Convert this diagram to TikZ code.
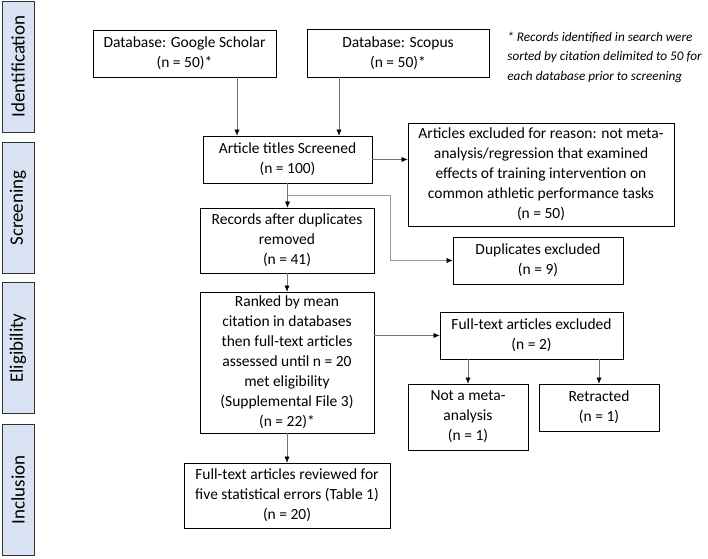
\documentclass[tikz,border=0pt]{standalone}
\usepackage{fontspec}
\setmainfont{Carlito}
\usetikzlibrary{arrows.meta,calc}
\definecolor{phaseblue}{HTML}{DAE3F3}

\begin{document}
\begin{tikzpicture}[x=1pt, y=-1pt,
            every node/.style={draw, thick, align=center, inner sep=2pt,
                font=\fontsize{15.5}{20}\selectfont},
            phase/.style={draw=black!80, fill=phaseblue, rotate=90,
                minimum width=131, minimum height=32,
                font=\fontsize{19}{22}\selectfont},
            link/.style={draw=black!55, thin,
                -{Latex[length=6pt, width=5pt, color=black]}}]
        \useasboundingbox (0,0) rectangle (708,558);

        % phases
        \node[phase] (ident) at (18,66.5) {Identification};
        \node[phase] (screen) at (18,208) {Screening};
        \node[phase] (elig) at (18,348) {Eligibility};
        \node[phase] (incl) at (18,490) {Inclusion};

        % identification
        \node[minimum width=183, minimum height=47] (scholar) at (184.5,53.5)
            {Database: Google Scholar\\(n = 50)*};
        \node[minimum width=182, minimum height=48] (scopus) at (398,53)
            {Database: Scopus\\(n = 50)*};
        \node[draw=none, anchor=west, align=left,
              font=\fontsize{13.2}{19.5}\selectfont\itshape] (note) at (505,57)
            {* Records identified in search were\\
             sorted by citation delimited to 50 for\\
             each database prior to screening};

        % screening
        \node[minimum width=169, minimum height=47] (titles) at (287.5,159.5)
            {Article titles Screened\\(n = 100)};
        \node[minimum width=266, minimum height=103] (reason) at (541,174.5)
            {Articles excluded for reason: not meta-\\
             analysis/regression that examined\\
             effects of training intervention on\\
             common athletic performance tasks\\(n = 50)};
        \node[minimum width=174, minimum height=65] (records) at (287,240.5)
            {Records after duplicates\\removed\\(n = 41)};
        \node[minimum width=170, minimum height=47] (dups) at (538,260.5)
            {Duplicates excluded\\(n = 9)};

        % eligibility
        \node[minimum width=174, minimum height=141] (ranked) at (287,362.5)
            {Ranked by mean\\citation in databases\\then full-text articles\\
             assessed until n = 20\\met eligibility\\(Supplemental File 3)\\(n = 22)*};
        \node[minimum width=183, minimum height=47] (fulltext) at (531.5,335.5)
            {Full-text articles excluded\\(n = 2)};
        \node[minimum width=120, minimum height=66] (notmeta) at (468,417)
            {Not a meta-\\analysis\\(n = 1)};
        \node[minimum width=120, minimum height=47] (retract) at (599,407.5)
            {Retracted\\(n = 1)};

        % inclusion
        \node[minimum width=206, minimum height=65] (review) at (287,495.5)
            {Full-text articles reviewed for\\five statistical errors (Table 1)\\(n = 20)};

        % connectors
        \coordinate (inA) at ([xshift=-50.5]titles.north);
        \coordinate (inB) at ([xshift=51.5]titles.north);
        \coordinate (bend) at (390,195);
        \draw[link] (inA |- scholar.south) -- (inA);
        \draw[link] (inB |- scopus.south) -- (inB);
        \draw[link] (titles.east) -- (titles.east -| reason.west);
        \draw[link] (titles.south) -- (titles.south |- records.north);
        \draw[link, draw=black!40] (titles.south |- bend) -- (bend) |- (dups.west);
        \draw[link] (records.south) -- (ranked.north);
        \draw[link] (ranked.east |- fulltext.west) -- (fulltext.west);
        \draw[link] (fulltext.south -| notmeta.north) -- (notmeta.north);
        \draw[link] (fulltext.south -| retract.north) -- (retract.north);
        \draw[link] (ranked.south) -- (review.north);
\end{tikzpicture}
\end{document}
